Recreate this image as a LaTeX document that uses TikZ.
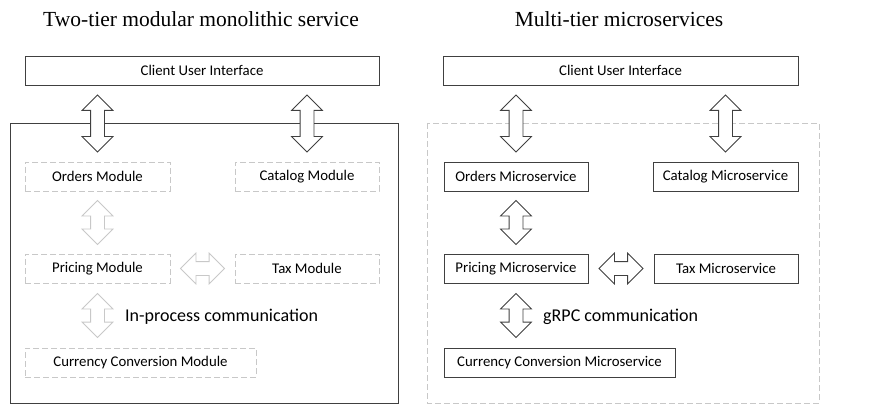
\documentclass[tikz,border=0pt]{standalone}
\usepackage{fontspec}
\setmainfont{Carlito}
\newfontfamily\titlefont{Liberation Serif}
\usetikzlibrary{shapes.arrows,calc}
\definecolor{darkline}{HTML}{404040}
\definecolor{lightline}{HTML}{C8C8C8}
\tikzset{
  solidbox/.style={draw=darkline, line width=0.9pt, minimum height=29pt, inner sep=0pt, font=\fontsize{14.8}{16}\selectfont, text=black},
  dashbox/.style={draw=lightline, line width=0.9pt, dash pattern=on 6pt off 3pt, minimum height=29pt, inner sep=0pt, font=\fontsize{14.8}{16}\selectfont, text=black},
  fatarrow/.style={double arrow, draw=#1, line width=0.8pt, fill=white, inner sep=0pt, double arrow head extend=8.5pt, double arrow tip angle=90},
  titletext/.style={font=\titlefont\fontsize{21.5}{24}\selectfont, inner sep=0pt},
  commtext/.style={font=\fontsize{18}{20}\selectfont, inner sep=0pt, anchor=west}
}
\newcommand{\shaft}{\rule{0pt}{13pt}}
\begin{document}
\begin{tikzpicture}[x=1pt,y=-1pt]
\useasboundingbox (0,0) rectangle (878,414);
% titles
\node[titletext] (tL) at (201,19) {Two-tier modular monolithic service};
\node[titletext] (tR) at (619,19) {Multi-tier microservices};
% ---------------- left -----------------
\draw[draw=darkline, line width=0.8pt] (10,123) rectangle (398,403);
\node[solidbox, minimum width=354pt] (cuiL) at (202,70.5) {Client User Interface};
\node[dashbox, minimum width=145pt] (ordL) at (97.5,176.5) {Orders Module};
\node[dashbox, minimum width=144pt] (catL) at (307,176.5) {Catalog Module};
\node[dashbox, minimum width=145pt] (priL) at (97.5,268.5) {Pricing Module};
\node[dashbox, minimum width=144pt] (taxL) at (307,268.5) {Tax Module};
\node[dashbox, minimum width=231pt] (curL) at (140.5,362.5) {Currency Conversion Module};
\node[commtext] (commL) at (125,317) {In-process communication};
\node[fatarrow=darkline, rotate=90, minimum height=57pt] (a1L) at (ordL.center |- {$(cuiL.south)!0.5!(ordL.north)$}) {\shaft};
\node[fatarrow=darkline, rotate=90, minimum height=57pt] (a2L) at (catL.center |- {$(cuiL.south)!0.5!(catL.north)$}) {\shaft};
\node[fatarrow=lightline, rotate=90, minimum height=44pt] (a3L) at ($(ordL.south)!0.5!(priL.north)$) {\shaft};
\node[fatarrow=lightline, rotate=90, minimum height=44pt] (a4L) at ($(priL.south)!0.5!(curL.north -| priL.south)$) {\shaft};
\node[fatarrow=lightline, minimum height=44pt] (a5L) at ($(priL.east)!0.5!(taxL.west)$) {\shaft};
% ---------------- right -----------------
\draw[draw=lightline, line width=0.8pt, dash pattern=on 6pt off 3pt] (427,123) rectangle (819,403);
\node[solidbox, minimum width=355pt] (cuiR) at (620.5,70.5) {Client User Interface};
\node[solidbox, minimum width=144pt] (ordR) at (516,176.5) {Orders Microservice};
\node[solidbox, minimum width=145pt] (catR) at (725.5,176.5) {Catalog Microservice};
\node[solidbox, minimum width=144pt] (priR) at (516,268.5) {Pricing Microservice};
\node[solidbox, minimum width=144pt] (taxR) at (726,268.5) {Tax Microservice};
\node[solidbox, minimum width=231pt] (curR) at (559.5,362.5) {Currency Conversion Microservice};
\node[commtext] (commR) at (543,317) {gRPC communication};
\node[fatarrow=darkline, rotate=90, minimum height=57pt] (a1R) at (ordR.center |- {$(cuiR.south)!0.5!(ordR.north)$}) {\shaft};
\node[fatarrow=darkline, rotate=90, minimum height=57pt] (a2R) at (catR.center |- {$(cuiR.south)!0.5!(catR.north)$}) {\shaft};
\node[fatarrow=darkline, rotate=90, minimum height=44pt] (a3R) at ($(ordR.south)!0.5!(priR.north)$) {\shaft};
\node[fatarrow=darkline, rotate=90, minimum height=44pt] (a4R) at ($(priR.south)!0.5!(curR.north -| priR.south)$) {\shaft};
\node[fatarrow=darkline, minimum height=44pt] (a5R) at ($(priR.east)!0.5!(taxR.west)$) {\shaft};
\end{tikzpicture}
\end{document}
